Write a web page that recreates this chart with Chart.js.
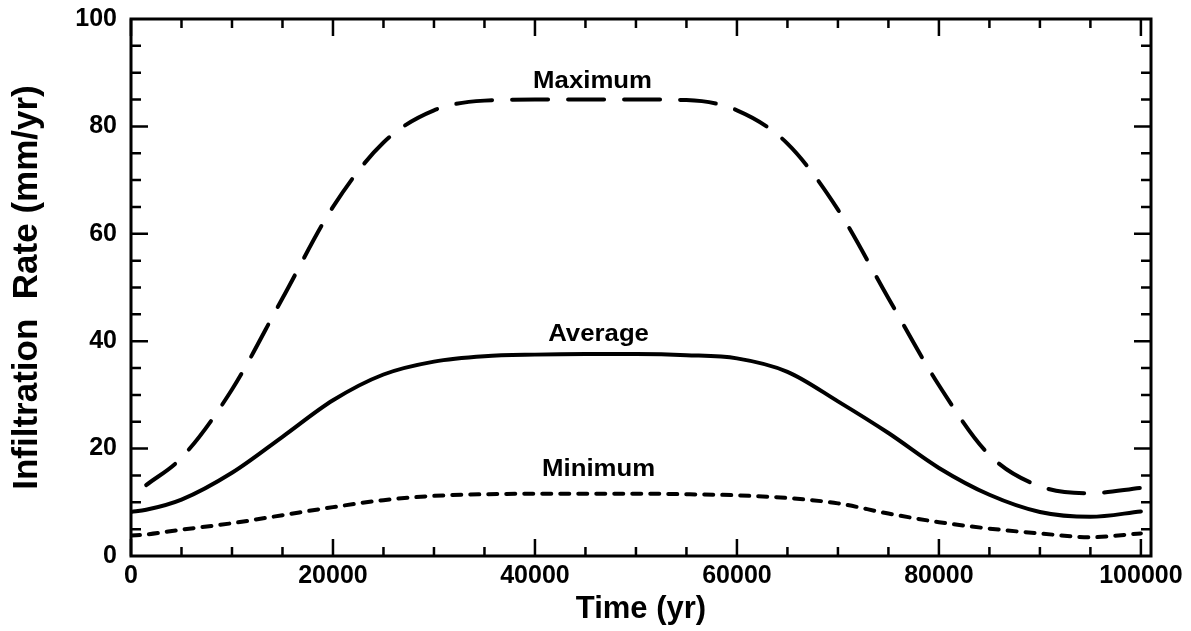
<!DOCTYPE html>
<html>
<head>
<meta charset="utf-8">
<title>Infiltration Rate</title>
<script src="https://cdn.jsdelivr.net/npm/chart.js@4/dist/chart.umd.min.js"></script>
<style>
  body { margin: 0; background: #fff; }
  canvas { display: block; }
</style>
</head>
<body>
<canvas id="myChart" width="1191" height="631"></canvas>
<script>
// values
const years = [0, 1500, 5000, 10000, 15000, 20000, 25000, 30000, 35000, 40000, 45000,
  50000, 55000, 60000, 65000, 70000, 75000, 80000, 85000, 90000, 95000, 100000];
const maximum = [null, 13.2, 18.3, 31, 48, 65, 77, 83, 84.8, 85, 85,
  85, 84.9, 83, 76.8, 64.5, 48, 31.8, 18.8, 13, 11.7, 12.7];
const average = [8.2, 8.6, 10.5, 15.5, 22.2, 29, 33.8, 36.2, 37.2, 37.5, 37.6,
  37.6, 37.4, 36.8, 34.3, 28.8, 22.9, 16.4, 11.4, 8.2, 7.3, 8.3];
const minimum = [3.8, 4.0, 4.9, 6.1, 7.6, 9.1, 10.4, 11.2, 11.5, 11.6, 11.6,
  11.6, 11.5, 11.3, 10.8, 9.8, 7.9, 6.3, 5.1, 4.2, 3.5, 4.2];
const xTicks = [0, 20000, 40000, 60000, 80000, 100000];
const yTicks = [0, 20, 40, 60, 80, 100];
const curveLabels = [
  { text: 'Maximum', x: 45700, y: 88.3 },
  { text: 'Average', x: 46300, y: 41.2 },
  { text: 'Minimum', x: 46300, y: 16.0 }
];

const pts = (arr) => years.map((x, i) => ({ x: x, y: arr[i] }));
const fontFamily = "'Liberation Sans', Arial, sans-serif";
const tickFont = { family: fontFamily, size: 25, weight: 'bold' };

// frame with inward ticks on all four sides, plus the curve names
const framePlugin = {
  id: 'frame',
  afterDraw(chart) {
    const ctx = chart.ctx;
    const a = chart.chartArea;
    const xs = chart.scales.x, ys = chart.scales.y;
    ctx.save();
    ctx.strokeStyle = '#000';
    ctx.lineWidth = 3;
    ctx.strokeRect(a.left, a.top, a.right - a.left, a.bottom - a.top);
    ctx.lineWidth = 2.5;
    ctx.beginPath();
    for (let v = 0; v <= 100000; v += 5000) {
      const px = xs.getPixelForValue(v);
      const len = v % 20000 === 0 ? 17 : 9;
      ctx.moveTo(px, a.bottom); ctx.lineTo(px, a.bottom - len);
      ctx.moveTo(px, a.top); ctx.lineTo(px, a.top + len);
    }
    for (let v = 5; v < 100; v += 5) {
      const py = ys.getPixelForValue(v);
      const len = v % 20 === 0 ? 17 : 10;
      ctx.moveTo(a.left, py); ctx.lineTo(a.left + len, py);
      ctx.moveTo(a.right, py); ctx.lineTo(a.right - len, py);
    }
    ctx.stroke();

    ctx.fillStyle = '#000';
    ctx.font = 'bold 23px ' + fontFamily;
    ctx.textAlign = 'center';
    ctx.textBaseline = 'middle';
    curveLabels.forEach(l => {
      ctx.save();
      ctx.translate(xs.getPixelForValue(l.x), ys.getPixelForValue(l.y));
      ctx.scale(1.12, 1);
      ctx.fillText(l.text, 0, 0);
      ctx.restore();
    });
    ctx.restore();
  }
};

const lineStyle = {
  borderColor: '#000',
  borderWidth: 4,
  borderCapStyle: 'round',
  pointRadius: 0,
  fill: false,
  cubicInterpolationMode: 'monotone'
};

new Chart(document.getElementById('myChart').getContext('2d'), {
  type: 'line',
  data: {
    datasets: [
      Object.assign({ label: 'Maximum', data: pts(maximum), borderDash: [36, 20] }, lineStyle),
      Object.assign({ label: 'Average', data: pts(average) }, lineStyle),
      Object.assign({ label: 'Minimum', data: pts(minimum), borderDash: [9, 9] }, lineStyle)
    ]
  },
  options: {
    responsive: false,
    animation: false,
    layout: { padding: { left: 0, top: 19, right: 40, bottom: 0 } },
    plugins: {
      legend: { display: false },
      tooltip: { enabled: false }
    },
    scales: {
      x: {
        type: 'linear',
        min: 0,
        max: 101000,
        grid: { display: false, drawTicks: false },
        border: { display: false },
        afterBuildTicks: (s) => { s.ticks = xTicks.map(v => ({ value: v })); },
        afterFit: (s) => { s.height = 75; },
        ticks: {
          color: '#000',
          font: tickFont,
          padding: 5,
          maxRotation: 0,
          autoSkip: false,
          callback: (v) => String(v)
        },
        title: {
          display: true,
          text: 'Time (yr)',
          color: '#000',
          font: { family: fontFamily, size: 31, weight: 'bold' },
          padding: { top: 0, bottom: 3 }
        }
      },
      y: {
        min: 0,
        max: 100,
        grid: { display: false, drawTicks: false },
        border: { display: false },
        afterBuildTicks: (s) => { s.ticks = yTicks.map(v => ({ value: v })); },
        afterFit: (s) => { s.width = 131; s.paddingTop = 0; s.paddingBottom = 0; },
        ticks: {
          color: '#000',
          font: tickFont,
          padding: 14
        },
        title: {
          display: true,
          text: 'Infiltration  Rate (mm/yr)',
          color: '#000',
          font: { family: fontFamily, size: 35, weight: 'bold' },
          padding: { top: 6, bottom: 0 }
        }
      }
    }
  },
  plugins: [framePlugin]
});
</script>
</body>
</html>
